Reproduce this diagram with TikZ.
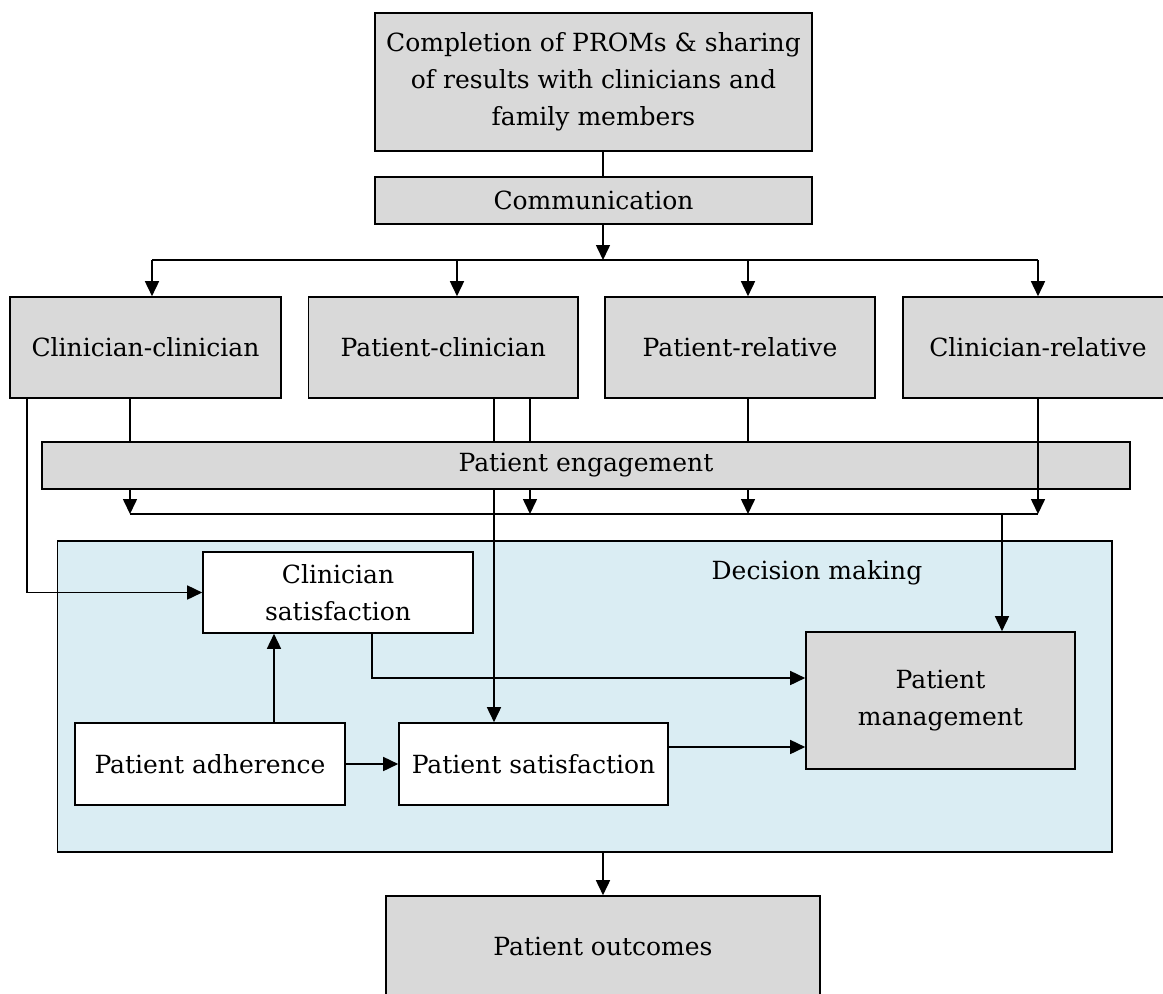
\documentclass[tikz,border=0pt]{standalone}
\usepackage{fontspec}
\setmainfont{DejaVu Serif}
\usetikzlibrary{arrows.meta}
\definecolor{boxgrey}{HTML}{D9D9D9}
\definecolor{dmblue}{HTML}{DAEDF3}
\tikzset{
  base/.style={draw=black, line width=1.6pt, inner sep=0pt, align=center,
    font=\fontsize{25}{37}\selectfont, text=black},
  gbox/.style={base, fill=boxgrey},
  wbox/.style={base, fill=white},
  cont/.style={base, fill=dmblue},
  conn/.style={line width=1.6pt, draw=black},
  arr/.style={conn, -{Triangle[length=15pt,width=14pt]}},
}
\begin{document}
\begin{tikzpicture}[x=1pt, y=-1pt]
\useasboundingbox (0,0) rectangle (1163,994);
\clip (0,0) rectangle (1163,994);
% nodes
\node[gbox, minimum width=437pt, minimum height=138pt] (top) at (593.5,82)
  {Completion of PROMs \& sharing\\of results with clinicians and\\family members};
\node[gbox, minimum width=437pt, minimum height=47pt] (comm) at (593.5,200.5) {Communication};
\node[gbox, minimum width=271pt, minimum height=101pt] (cc) at (145.5,347.5) {Clinician-clinician};
\node[gbox, minimum width=269.5pt, minimum height=101pt] (pc) at (443.25,347.5) {Patient-clinician};
\node[gbox, minimum width=270pt, minimum height=101pt] (pr) at (740,347.5) {Patient-relative};
\node[gbox, minimum width=270pt, minimum height=101pt] (cr) at (1038,347.5) {Clinician-relative};
\node[gbox, minimum width=1088pt, minimum height=47pt] (pe) at (586,465.5) {Patient engagement};
\node[cont, minimum width=1054.5pt, minimum height=311pt] (dm) at (584.75,696.5) {};
\node[font=\fontsize{25}{37}\selectfont, inner sep=0pt] (dmlabel) at (817,573) {Decision making};
\node[wbox, minimum width=270pt, minimum height=81pt] (cs) at (338,592.5) {Clinician\\satisfaction};
\node[wbox, minimum width=270pt, minimum height=82pt] (pa) at (210,764) {Patient adherence};
\node[wbox, minimum width=269pt, minimum height=82pt] (ps) at (533.5,764) {Patient satisfaction};
\node[gbox, minimum width=269pt, minimum height=137pt] (pm) at (940.5,700.5) {Patient\\management};
\node[gbox, minimum width=434pt, minimum height=100pt] (po) at (603,946) {Patient outcomes};
% helper coordinates
\coordinate (cx) at (603,0);
\coordinate (xa) at (152,260);
\coordinate (xb) at (457,260);
\coordinate (xc) at (748,260);
\coordinate (xd) at (1038,260);
\coordinate (xcom) at (603,260);
\coordinate (la) at (130,514);
\coordinate (lb) at (530,514);
\coordinate (lc) at (748,514);
\coordinate (ld) at (1038,514);
\coordinate (le) at (1002,514);
\coordinate (k) at (27,592.5);
\coordinate (m) at (274,0);
\coordinate (n) at (372,678);
\coordinate (q) at (700,747);
\coordinate (r) at (494,0);
% connectors
\draw[conn] (top.south -| cx) -- (comm.north -| cx);
\draw[arr] (comm.south -| cx) -- (xcom);
\draw[conn] (xa) -- (xd);
\draw[arr] (xa) -- (cc.north -| xa);
\draw[arr] (xb) -- (pc.north -| xb);
\draw[arr] (xc) -- (pr.north -| xc);
\draw[arr] (xd) -- (cr.north -| xd);
\draw[conn] (cc.south -| la) -- (pe.north -| la);
\draw[conn] (pc.south -| lb) -- (pe.north -| lb);
\draw[conn] (pr.south -| lc) -- (pe.north -| lc);
\draw[conn] (pc.south -| r) -- (pe.north -| r);
\draw[arr] (pe.south -| la) -- (la);
\draw[arr] (pe.south -| lb) -- (lb);
\draw[arr] (pe.south -| lc) -- (lc);
\draw[arr] (cr.south -| ld) -- (ld);
\draw[conn] (la) -- (ld);
\draw[arr] (le) -- (pm.north -| le);
\draw[arr] (pe.south -| r) -- (ps.north -| r);
\draw[arr] (cc.south -| k) -- (k) -- (cs.west);
\draw[arr] (pa.north -| m) -- (cs.south -| m);
\draw[arr] (cs.south -| n) -- (n) -- (pm.west |- n);
\draw[arr] (pa.east) -- (ps.west);
\draw[arr] (ps.east |- q) -- (pm.west |- q);
\draw[arr] (dm.south -| po.north) -- (po.north);
\end{tikzpicture}
\end{document}
